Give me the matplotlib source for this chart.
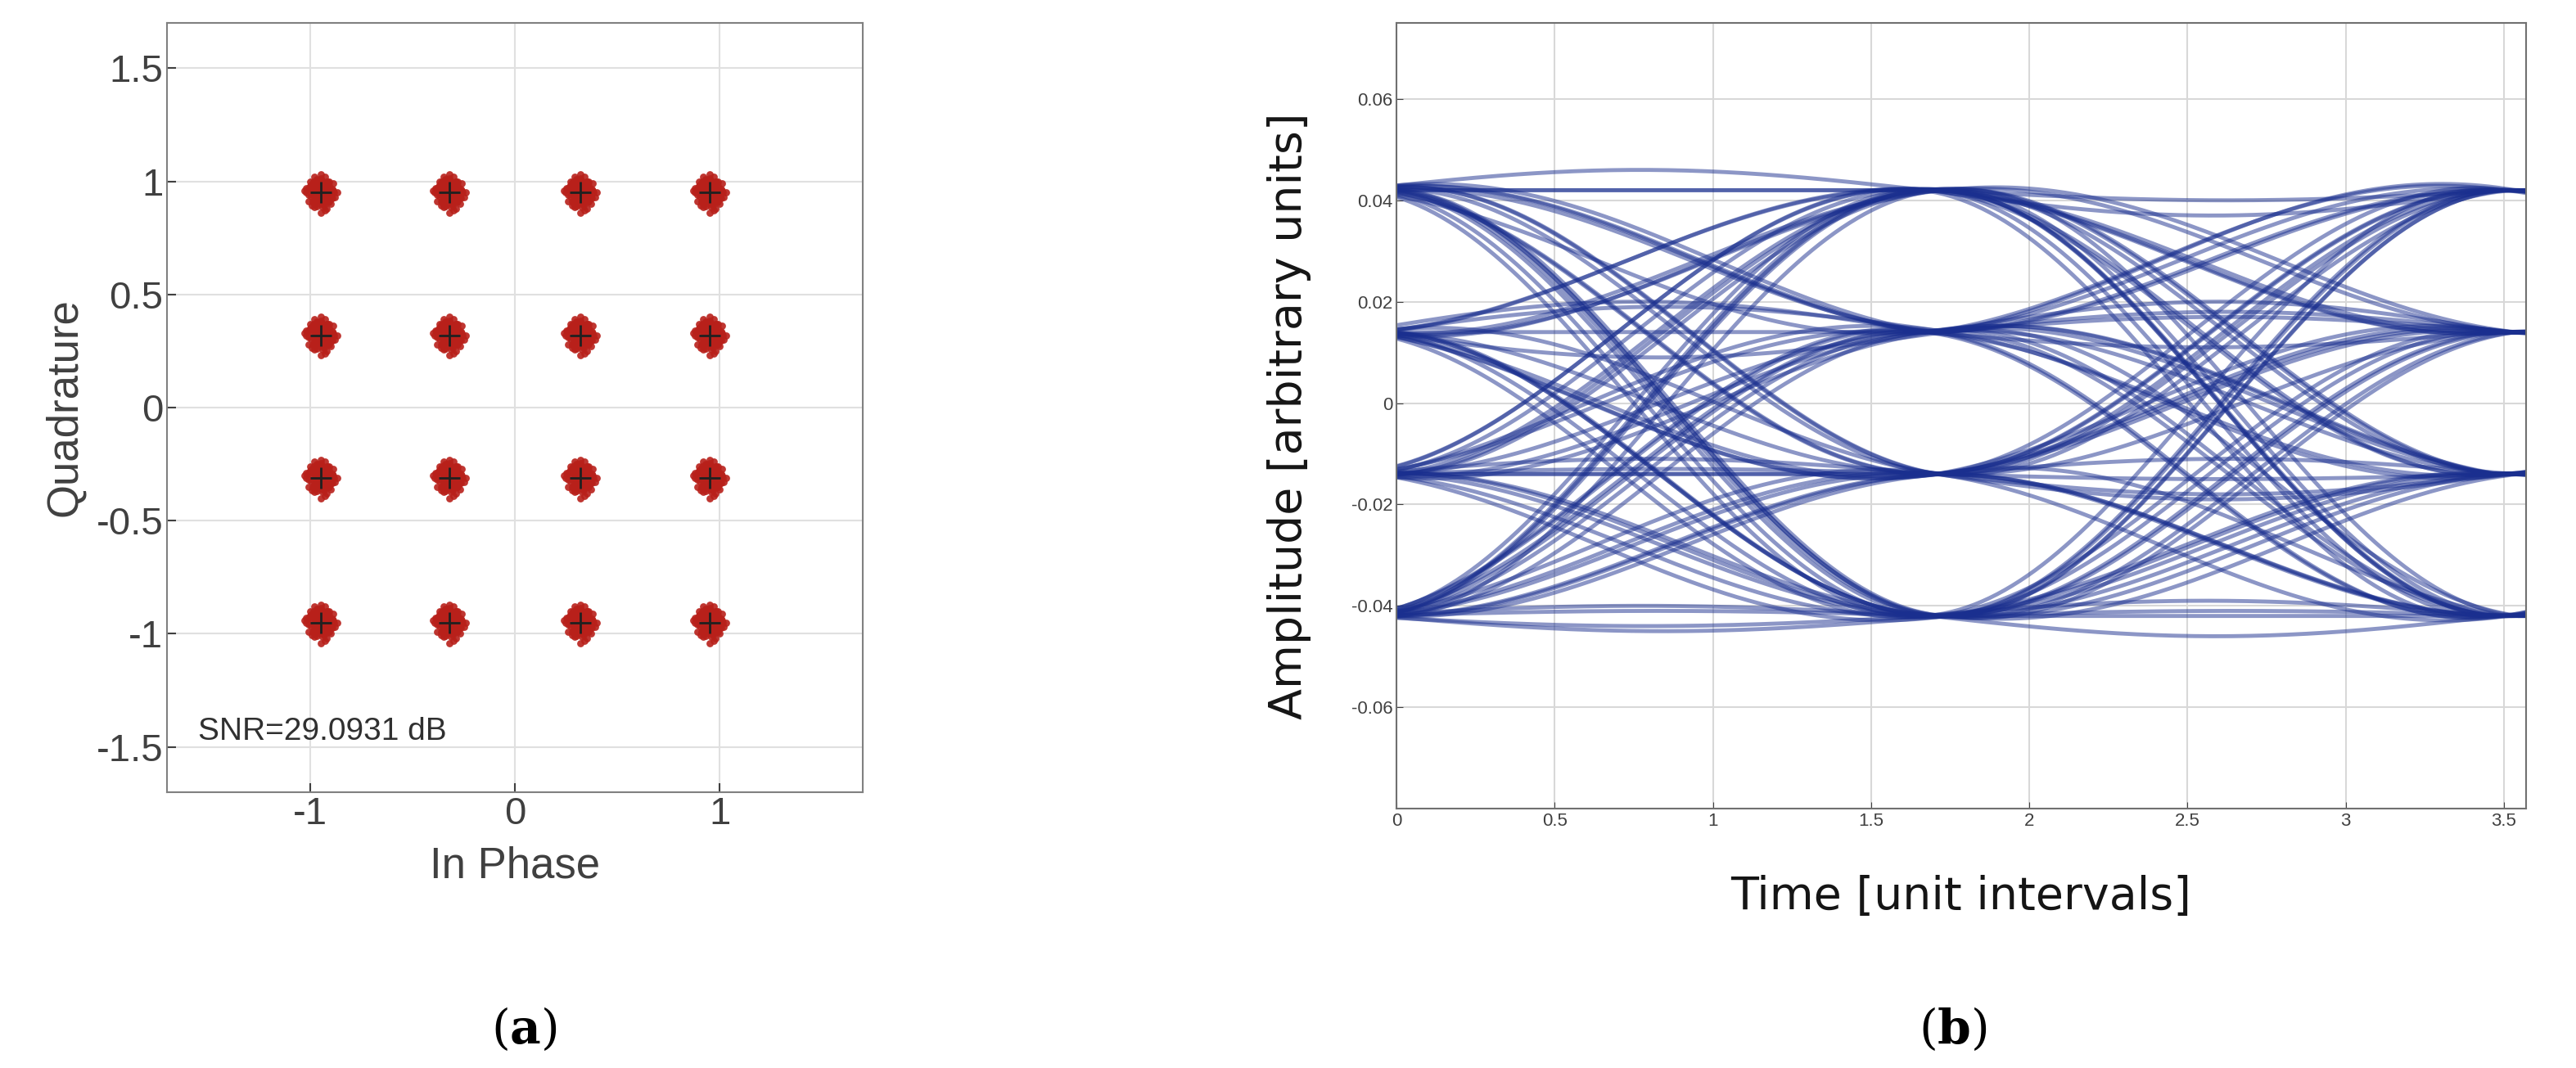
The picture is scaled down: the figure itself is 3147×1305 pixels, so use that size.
import numpy as np
import matplotlib
matplotlib.use("Agg")
import matplotlib.pyplot as plt

# ---- data ----
qam_levels_i = [-0.95, -0.32, 0.32, 0.95]
qam_levels_q = [0.95, 0.32, -0.31, -0.95]
cloud_dx = [0.00, 0.03, -0.03, 0.05, -0.05, 0.02, -0.02, 0.06, -0.06, 0.01, -0.01, 0.04, -0.04, 0.07,
            -0.07, 0.03, -0.03, 0.00, 0.05, -0.05, 0.02, -0.02, 0.08, -0.08, 0.04, -0.04, 0.01, -0.01,
            0.06, -0.06, 0.00, 0.03, -0.03, 0.02, -0.02]
cloud_dy = [0.00, 0.04, -0.03, -0.02, 0.03, 0.07, -0.06, 0.01, -0.01, -0.05, 0.05, 0.05, -0.04, -0.02,
            0.02, -0.07, 0.07, 0.08, -0.05, 0.05, -0.08, 0.02, 0.00, 0.01, 0.00, -0.01, 0.03, -0.03,
            0.04, -0.04, -0.09, 0.01, 0.02, -0.02, 0.06]
snr_text = "SNR=29.0931 dB"

eye_levels = [-0.042, -0.014, 0.014, 0.042]
symbol_seq = [3, 3, 0, 2, 1, 3, 0, 0, 2, 2, 1, 0, 3, 1, 1, 2, 0, 3, 2, 0, 1, 3, 3, 1, 0, 2, 3, 0,
              1, 1, 3, 2, 2, 0, 0, 3, 1, 2, 3, 3, 0, 1, 2, 1, 0, 0, 2, 3, 1, 0, 3, 2, 1, 1, 0, 3,
              2, 2, 3, 0, 1, 2, 0, 1, 3, 1, 2, 0, 0, 1, 3, 0, 2, 3, 2, 1, 1, 3, 0, 2, 2, 1]
trace_offset = [0.0, 0.003, -0.003, 0.005, -0.004, 0.001, -0.002, 0.004, 0.006, -0.005, 0.0, 0.002,
                -0.001, 0.003]
trace_shift = [0.0, 0.06, -0.05, 0.03, -0.08, 0.09, -0.02, 0.05, -0.06, 0.02, 0.07, -0.04, 0.01]
symbol_period = 1.8
first_center = -0.1

plt.rcParams['font.family'] = ['Liberation Sans', 'DejaVu Sans']
plt.rcParams['mathtext.fontset'] = 'dejavuserif'
fig = plt.figure(figsize=(31.47, 13.05), dpi=100)

# ---- (a) constellation ----
ax1 = fig.add_axes([204/3147, 1-968/1305, 850/3147, 940/1305])
xs, ys = [], []
for qi in qam_levels_q:
    for ii in qam_levels_i:
        for dx, dy in zip(cloud_dx, cloud_dy):
            xs.append(ii + dx); ys.append(qi + dy)
        for dx, dy in zip(cloud_dy, cloud_dx):
            xs.append(ii + dx * 0.8); ys.append(qi + dy * 0.8)
        for dx, dy in zip(cloud_dx[::-1], cloud_dy):
            xs.append(ii + dx * 0.6); ys.append(qi + dy * 0.7)
ax1.scatter(xs, ys, s=40, color='#b8201a', marker='o', linewidths=0, alpha=0.9)
gx, gy = np.meshgrid(qam_levels_i, qam_levels_q)
ax1.scatter(gx.ravel(), gy.ravel(), s=350, marker='+', color='#202020', linewidths=2, zorder=3)
ax1.set_xlim(-1.7, 1.7); ax1.set_ylim(-1.7, 1.7)
ax1.set_xticks([-1, 0, 1]); ax1.set_yticks([-1.5, -1, -0.5, 0, 0.5, 1, 1.5])
ax1.set_xticklabels(['-1', '0', '1']); ax1.set_yticklabels(['-1.5', '-1', '-0.5', '0', '0.5', '1', '1.5'])
ax1.grid(True, color='#e0e0e0', lw=1.5)
ax1.set_axisbelow(True)
ax1.tick_params(labelsize=34, colors='#404040', length=8, direction='in', width=1.5)
for s in ax1.spines.values():
    s.set_color('#808080'); s.set_linewidth(1.5)
ax1.set_xlabel('In Phase', fontsize=38, color='#404040', labelpad=12)
ax1.set_ylabel('Quadrature', fontsize=38, color='#404040', labelpad=10)
ax1.text(-1.55, -1.47, snr_text, fontsize=28, color='#303030')
fig.text(320*2/3147, 1-1258/1305, r'($\mathbf{a}$)', fontsize=42, ha='center', va='center',
         family='DejaVu Serif')

# ---- (b) eye diagram ----
ax2 = fig.add_axes([1706/3147, 1-988/1305, 1380/3147, 960/1305])
t = np.linspace(0, 3.57, 300)
ncenters = 3
k = 0
while k + ncenters <= len(symbol_seq):
    vals = [eye_levels[s] for s in symbol_seq[k:k + ncenters]]
    off = trace_offset[k % len(trace_offset)]
    sh = trace_shift[k % len(trace_shift)]
    pos = (t - first_center - sh * 0.5) / symbol_period
    idx = np.clip(np.floor(pos).astype(int), 0, ncenters - 2)
    frac = pos - idx
    v0 = np.array(vals)[idx]; v1 = np.array(vals)[idx + 1]
    y = v0 + (v1 - v0) * (1 - np.cos(np.pi * frac)) / 2
    bow = off * np.sin(np.pi * np.clip(frac, 0, 1))
    ax2.plot(t, y + bow, color='#1a2f8f', lw=3.5, alpha=0.5)
    k += 1
ax2.set_xlim(0, 3.57); ax2.set_ylim(-0.08, 0.075)
ax2.set_xticks([0, 0.5, 1, 1.5, 2, 2.5, 3, 3.5])
ax2.set_xticklabels(['0', '0.5', '1', '1.5', '2', '2.5', '3', '3.5'])
ax2.set_yticks([-0.06, -0.04, -0.02, 0, 0.02, 0.04, 0.06])
ax2.set_yticklabels(['-0.06', '-0.04', '-0.02', '0', '0.02', '0.04', '0.06'])
ax2.grid(True, color='#d8d8d8', lw=1.5)
ax2.set_axisbelow(True)
ax2.tick_params(labelsize=16, colors='#404040', length=6, direction='in')
for s in ax2.spines.values():
    s.set_color('#707070'); s.set_linewidth(1.5)
ax2.set_xlabel('Time [unit intervals]', fontsize=40, color='#151515', labelpad=40, family='DejaVu Sans')
ax2.set_ylabel('Amplitude [arbitrary units]', fontsize=40, color='#151515', labelpad=35, family='DejaVu Sans')
fig.text(1193*2/3147, 1-1258/1305, r'($\mathbf{b}$)', fontsize=42, ha='center', va='center',
         family='DejaVu Serif')

fig.savefig('out.png', dpi=100, facecolor='white')
